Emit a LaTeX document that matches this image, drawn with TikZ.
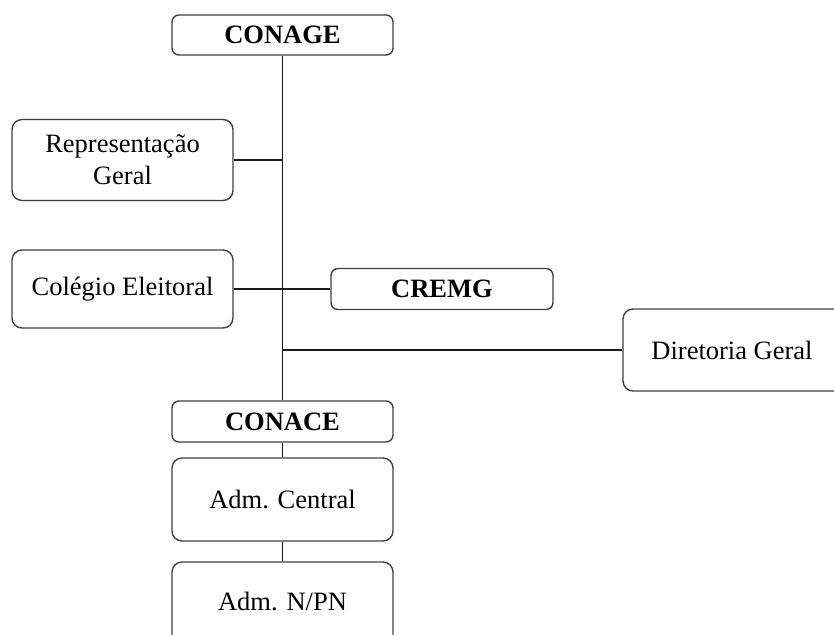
\documentclass[tikz,border=0pt]{standalone}
\usepackage{fontspec}
\setmainfont{Liberation Serif}
\begin{document}
\begin{tikzpicture}[x=1pt,y=-1pt,
  box/.style={draw=black!75, line width=1.4pt, rounded corners=10pt, inner sep=0pt,
    font=\fontsize{26.5}{32}\selectfont, align=center},
  boldbox/.style={box, font=\fontsize{26.5}{32}\selectfont\bfseries, rounded corners=7pt},
  link/.style={draw=black!90, line width=1.3pt}]
\useasboundingbox (0,0) rectangle (834,634);
\clip (0,0) rectangle (834,634);
\node[boldbox, minimum width=221pt, minimum height=40pt] (conage) at (282.5,35) {CONAGE};
\node[box, minimum width=221pt, minimum height=81pt] (rep) at (122.5,160) {Representação\\Geral};
\node[box, minimum width=221pt, minimum height=78pt] (col) at (122.5,289) {Colégio Eleitoral};
\node[boldbox, minimum width=222pt, minimum height=41pt] (cremg) at (442,289) {CREMG};
\node[box, minimum width=226pt, minimum height=82pt] (dir) at (736,350) {\hspace*{-8pt}Diretoria Geral};
\node[boldbox, minimum width=221pt, minimum height=41pt] (conace) at (282.5,421.5) {CONACE};
\node[box, minimum width=221pt, minimum height=83pt] (central) at (282.5,499.5) {Adm. Central};
\node[box, minimum width=221pt, minimum height=84pt, text depth=0pt] (npn) at (282.5,604) {\raisebox{6pt}{Adm. N/PN}};
\draw[link] (conage.south) -- (conace.north);
\draw[link] (rep.east) -- (rep.east -| conage.south);
\draw[link] (col.east) -- (cremg.west);
\draw[link] (dir.west) -- (dir.west -| conage.south);
\draw[link] (conace.south) -- (central.north);
\draw[link] (central.south) -- (npn.north);
\end{tikzpicture}
\end{document}
